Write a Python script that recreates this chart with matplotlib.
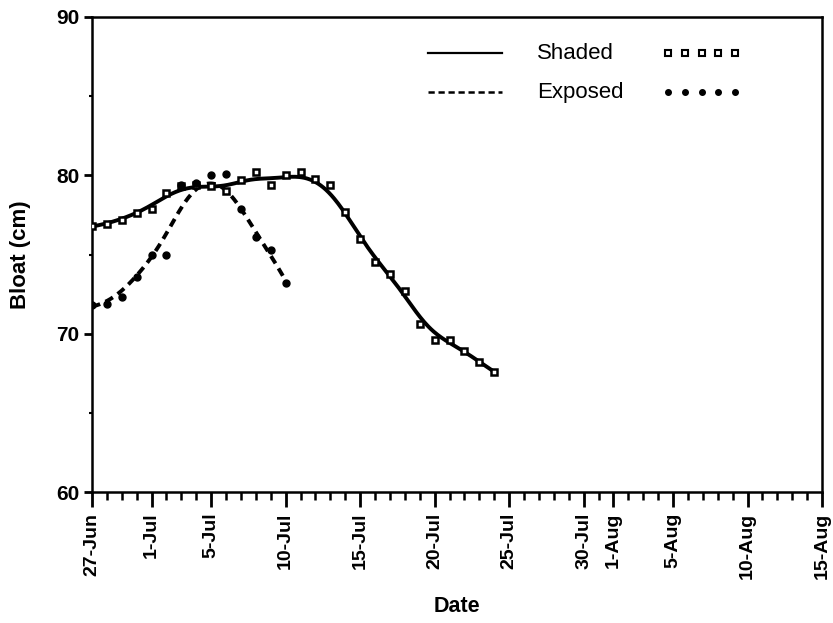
import numpy as np
import matplotlib
matplotlib.use('Agg')
import matplotlib.pyplot as plt
import matplotlib.dates as mdates
from matplotlib.ticker import FixedLocator, MultipleLocator

plt.rcParams['font.family'] = ['Liberation Sans', 'DejaVu Sans']

# ---------------- data ----------------
shaded_dates = ['2000-06-27', '2000-06-28', '2000-06-29', '2000-06-30', '2000-07-01',
                '2000-07-02', '2000-07-03', '2000-07-04', '2000-07-05', '2000-07-06',
                '2000-07-07', '2000-07-08', '2000-07-09', '2000-07-10', '2000-07-11',
                '2000-07-12', '2000-07-13', '2000-07-14', '2000-07-15', '2000-07-16',
                '2000-07-17', '2000-07-18', '2000-07-19', '2000-07-20', '2000-07-21',
                '2000-07-22', '2000-07-23', '2000-07-24']
shaded_values = [76.8, 76.9, 77.2, 77.6, 77.9,
                 78.9, 79.3, 79.4, 79.3, 79.0,
                 79.7, 80.2, 79.4, 80.0, 80.2,
                 79.8, 79.4, 77.7, 76.0, 74.5,
                 73.8, 72.7, 70.6, 69.6, 69.6,
                 68.9, 68.2, 67.6]

exposed_dates = ['2000-06-27', '2000-06-28', '2000-06-29', '2000-06-30', '2000-07-01',
                 '2000-07-02', '2000-07-03', '2000-07-04', '2000-07-05', '2000-07-06',
                 '2000-07-07', '2000-07-08', '2000-07-09', '2000-07-10']
exposed_values = [71.8, 71.9, 72.3, 73.6, 75.0,
                  75.0, 79.4, 79.5, 80.0, 80.1,
                  77.9, 76.1, 75.3, 73.2]

tick_dates = ['2000-06-27', '2000-07-01', '2000-07-05', '2000-07-10', '2000-07-15',
              '2000-07-20', '2000-07-25', '2000-07-30', '2000-08-01', '2000-08-05',
              '2000-08-10', '2000-08-15']
tick_labels = ['27-Jun', '1-Jul', '5-Jul', '10-Jul', '15-Jul', '20-Jul', '25-Jul',
               '30-Jul', '1-Aug', '5-Aug', '10-Aug', '15-Aug']

y_ticks = [60, 70, 80, 90]


def to_num(ds):
    return mdates.date2num(np.array(ds, dtype='datetime64[D]'))


def local_linear(x, y, xs, bw):
    x = np.asarray(x, float)
    y = np.asarray(y, float)
    out = []
    for x0 in xs:
        w = np.exp(-0.5 * ((x - x0) / bw) ** 2)
        X = np.vstack([np.ones_like(x), x - x0]).T
        XtW = X.T * w
        beta = np.linalg.solve(XtW @ X, XtW @ y)
        out.append(beta[0])
    return np.array(out)


xs_sh = to_num(shaded_dates)
xs_ex = to_num(exposed_dates)
xt = to_num(tick_dates)

fig = plt.figure(figsize=(8.33, 6.23), dpi=100)
ax = fig.add_axes([92 / 833, 1 - 492 / 623, 730 / 833, 475 / 623])

# smooth curves derived from the data
gsh = np.linspace(xs_sh[0], xs_sh[-1], 300)
gex = np.linspace(xs_ex[0], xs_ex[-1], 200)
ax.plot(gsh, local_linear(xs_sh, shaded_values, gsh, 1.2), color='black', lw=2.8,
        solid_capstyle='round', zorder=2)
ax.plot(gex, local_linear(xs_ex, exposed_values, gex, 1.25), color='black', lw=2.8,
        dashes=(2.2, 1.5), zorder=2)

ax.plot(xs_sh, shaded_values, linestyle='none', marker='s', ms=4.6, mfc='white',
        mec='black', mew=1.8, zorder=3)
ax.plot(xs_ex, exposed_values, linestyle='none', marker='o', ms=5.0, mfc='black',
        mec='black', zorder=3)

ax.set_xlim(xt[0], xt[-1])
ax.set_ylim(60, 90)

ax.xaxis.set_major_locator(FixedLocator(xt))
ax.set_xticklabels(tick_labels, rotation=90, fontsize=14, fontweight='bold')
ax.xaxis.set_minor_locator(MultipleLocator(1))
ax.yaxis.set_major_locator(FixedLocator(y_ticks))
ax.yaxis.set_minor_locator(MultipleLocator(5))
ax.set_yticklabels([str(v) for v in y_ticks], fontsize=15, fontweight='bold')

ax.tick_params(axis='x', which='major', direction='out', length=11, width=2, pad=4)
ax.tick_params(axis='x', which='minor', direction='out', length=6, width=1.8)
ax.tick_params(axis='y', which='major', direction='out', length=6, width=2, pad=3)
ax.tick_params(axis='y', which='minor', direction='out', length=2.5, width=1.5)
for s in ax.spines.values():
    s.set_linewidth(1.8)

ax.set_xlabel('Date', fontsize=15.5, fontweight='bold', labelpad=12)
ax.set_ylabel('Bloat (cm)', fontsize=16, fontweight='bold', labelpad=18)

# legend (drawn in axes coordinates)
tr = ax.transAxes
ax.plot([0.460, 0.562], [0.924, 0.924], transform=tr, color='black', lw=1.6)
ax.plot([0.460, 0.562], [0.842, 0.842], transform=tr, color='black', lw=1.8,
        dashes=(2.5, 1.5))
ax.text(0.610, 0.924, 'Shaded', transform=tr, fontsize=16, va='center', ha='left')
ax.text(0.610, 0.842, 'Exposed', transform=tr, fontsize=16, va='center', ha='left')
mx = np.linspace(0.789, 0.881, 5)
ax.plot(mx, [0.924] * 5, transform=tr, linestyle='none', marker='s', ms=4.2,
        mfc='white', mec='black', mew=1.5)
ax.plot(mx, [0.842] * 5, transform=tr, linestyle='none', marker='o', ms=4,
        mfc='black', mec='black')

fig.savefig('out.png', dpi=100)
